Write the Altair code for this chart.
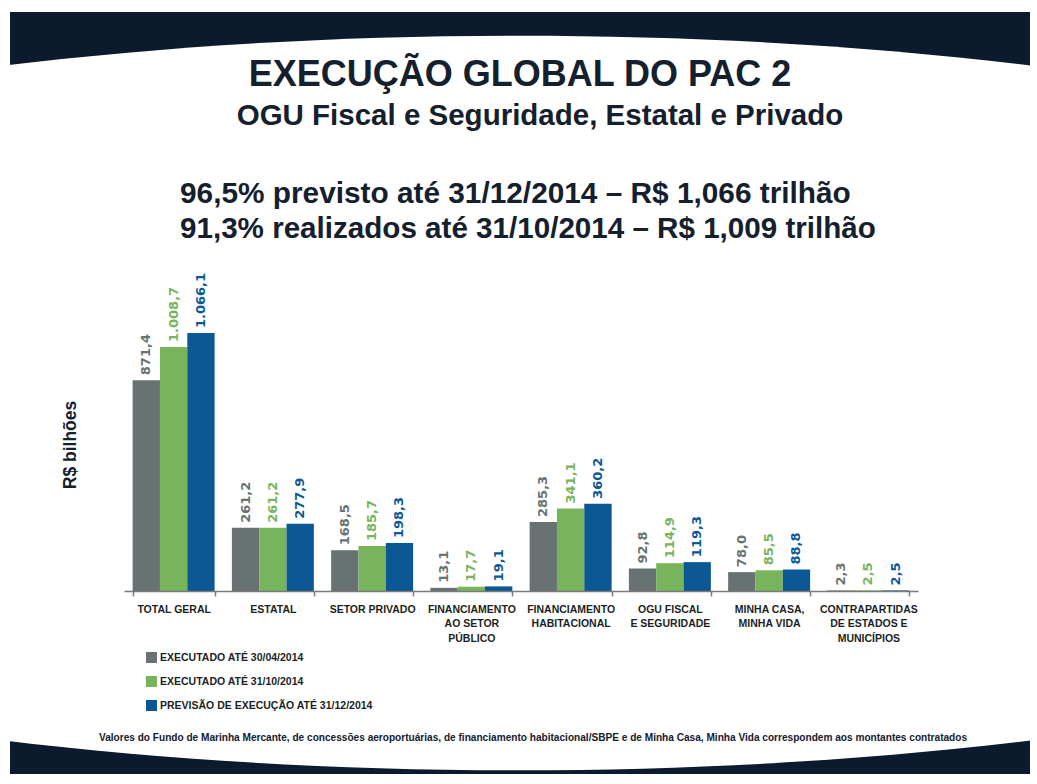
import altair as alt
import pandas as pd

# ---------------- data ----------------
CATEGORIES = [
    "TOTAL GERAL",
    "ESTATAL",
    "SETOR PRIVADO",
    "FINANCIAMENTO|AO SETOR|PÚBLICO",
    "FINANCIAMENTO|HABITACIONAL",
    "OGU FISCAL|E SEGURIDADE",
    "MINHA CASA,|MINHA VIDA",
    "CONTRAPARTIDAS|DE ESTADOS E|MUNICÍPIOS",
]
SERIES = [
    "EXECUTADO ATÉ 30/04/2014",
    "EXECUTADO ATÉ 31/10/2014",
    "PREVISÃO DE EXECUÇÃO ATÉ 31/12/2014",
]
EXEC_ABR = [871.4, 261.2, 168.5, 13.1, 285.3, 92.8, 78.0, 2.3]
EXEC_OUT = [1008.7, 261.2, 185.7, 17.7, 341.1, 114.9, 85.5, 2.5]
PREV_DEZ = [1066.1, 277.9, 198.3, 19.1, 360.2, 119.3, 88.8, 2.5]

TITLE = "EXECUÇÃO GLOBAL DO PAC 2"
SUBTITLE = "OGU Fiscal e Seguridade, Estatal e Privado"
HEADLINES = [
    "96,5% previsto até 31/12/2014 – R$ 1,066 trilhão",
    "91,3% realizados até 31/10/2014 – R$ 1,009 trilhão",
]
Y_TITLE = "R$ bilhões"
FOOTNOTE = ("Valores do Fundo de Marinha Mercante, de concessões aeroportuárias, "
            "de financiamento habitacional/SBPE e de Minha Casa, Minha Vida "
            "correspondem aos montantes contratados")

COLORS = ["#687273", "#78b45b", "#0c5895"]
NAVY = "#0b1a2d"
TEXT = "#15202e"
FONT = "Liberation Sans"


def br(v):
    s = f"{v:,.1f}"
    return s.replace(",", "X").replace(".", ",").replace("X", ".")


rows = []
for serie, vals in zip(SERIES, [EXEC_ABR, EXEC_OUT, PREV_DEZ]):
    for cat, v in zip(CATEGORIES, vals):
        rows.append({"cat": cat, "serie": serie, "valor": v, "rotulo": br(v)})
df = pd.DataFrame(rows)

W, H = 794, 300
PAD = {"left": 124, "top": 291, "right": 119, "bottom": 193}

# ---------------- decoration (slide frame) ----------------
one = pd.DataFrame({"k": [0]})
frame = alt.Chart(one).mark_rect(color=NAVY).encode(
    x=alt.value(-114), x2=alt.value(906), y=alt.value(-279), y2=alt.value(483)
)
k = 0.5523
ry = 0.283
ell_path = (
    f"M-1,0C-1,{-ry*k:.4f} {-k:.4f},{-ry} 0,{-ry}"
    f"C{k:.4f},{-ry} 1,{-ry*k:.4f} 1,0"
    f"C1,{ry*k:.4f} {k:.4f},{ry} 0,{ry}"
    f"C{-k:.4f},{ry} -1,{ry*k:.4f} -1,0Z"
)
ellipse = alt.Chart(one).mark_point(
    shape=ell_path, filled=True, fill="white", opacity=1, strokeWidth=0,
    size=(2 * 1298) ** 2,
).encode(x=alt.value(394), y=alt.value(112))

# ---------------- bars ----------------
base = alt.Chart(df).encode(
    x=alt.X(
        "cat:N", sort=CATEGORIES,
        scale=alt.Scale(paddingInner=0.174, paddingOuter=0.087),
        axis=alt.Axis(
            title=None, labelAngle=0, labelExpr="split(datum.label, '|')",
            labelFont=FONT, labelFontSize=10.5, labelFontWeight="bold",
            labelColor="#1b1f24", labelLineHeight=14.5, labelPadding=8,
            labelBaseline="top", tickBand="extent", tickSize=5,
            tickColor="#7a7a7a", domainColor="#7a7a7a", domainWidth=1.5,
            tickWidth=1.5, zindex=1, labelLimit=0,
        ),
    ),
    xOffset=alt.XOffset("serie:N", sort=SERIES,
                        scale=alt.Scale(paddingInner=0, paddingOuter=0)),
    y=alt.Y("valor:Q", scale=alt.Scale(domain=[0, 1240]), axis=None),
    color=alt.Color(
        "serie:N", sort=SERIES,
        scale=alt.Scale(domain=SERIES, range=COLORS),
        legend=alt.Legend(
            title=None, orient="none", legendX=22, legendY=361,
            direction="vertical", symbolType="square", symbolSize=121,
            symbolStrokeWidth=0, symbolOpacity=1, labelFont=FONT,
            labelFontSize=10.5, labelFontWeight="bold", labelColor="#1b1f24",
            rowPadding=13, labelOffset=3, padding=0, labelLimit=0, zindex=1,
        ),
    ),
)
bars = base.mark_bar()
labels = base.mark_text(
    angle=270, align="left", baseline="middle", dx=5,
    font="DejaVu Sans", fontSize=13, fontWeight="bold",
).encode(text="rotulo:N")


def txt(s, x, y, size, align="center", angle=0, font=FONT):
    return alt.Chart(pd.DataFrame({"t": [s]})).mark_text(
        font=font, fontSize=size, fontWeight="bold", color=TEXT,
        align=align, baseline="alphabetic", angle=angle,
    ).encode(x=alt.value(x), y=alt.value(y), text="t:N")


texts = [
    txt(TITLE, 396, -205, 36),
    txt(SUBTITLE, 416, -166, 29.5),
    txt(HEADLINES[0], 56, -88, 29.8, align="left"),
    txt(HEADLINES[1], 56, -53, 29.6, align="left"),
    txt(Y_TITLE, -48, 154, 17.5, angle=270),
    txt(FOOTNOTE, 409, 450, 10.1),
]

chart = alt.layer(frame, ellipse, bars, labels, *texts).properties(
    width=W, height=H, padding=PAD,
    autosize=alt.AutoSizeParams(type="none"),
    background="white",
).configure_view(stroke=None)

chart.save("out.html", embed_options={"renderer": "svg", "actions": False})
